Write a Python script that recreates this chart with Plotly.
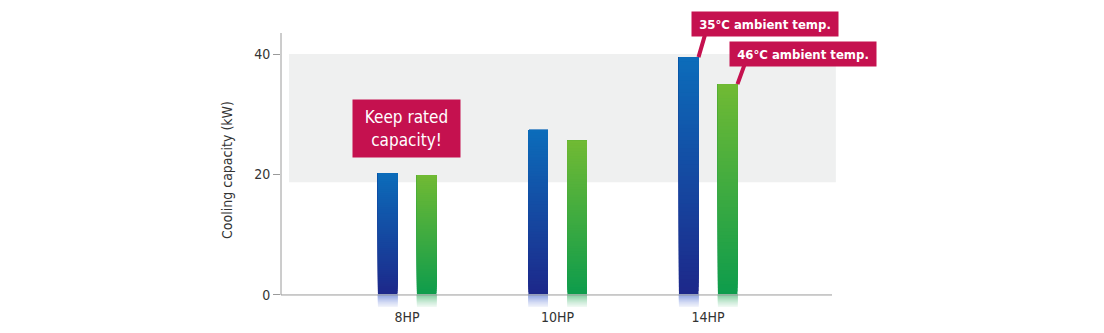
import plotly.graph_objects as go
import numpy as np

# ---- data ----
categories = ["8HP", "10HP", "14HP"]
cap_35c = [20.2, 27.4, 39.5]   # 35°C ambient temp.
cap_46c = [19.9, 25.6, 35.0]   # 46°C ambient temp.
y_tick_vals = [0, 20, 40]
band_range = [18.7, 40]
series_labels = ["35°C ambient temp.", "46°C ambient temp."]
note_text = "Keep rated<br>capacity!"

FONT = "Liberation Sans Narrow, DejaVu Sans Condensed, Roboto, sans-serif"
CRIMSON = "#c5114f"

x_idx = np.arange(len(categories))
N = 60  # gradient steps


def lerp(c0, c1, t):
    return tuple(int(round(a + (b - a) * t)) for a, b in zip(c0, c1))


def gradient_trace(values, offset, width, bottom_rgb, top_rgb):
    # overlapping bars: each step spans from its base up to the bar value
    xs, bases, lens, cols = [], [], [], []
    for xi, v in zip(x_idx, values):
        for k in range(N):
            t = k / (N - 1)
            b0 = k * v / N
            xs.append(xi)
            bases.append(b0)
            lens.append(v - b0)
            r, g, b = lerp(bottom_rgb, top_rgb, t)
            cols.append(f"rgb({r},{g},{b})")
    return go.Bar(x=xs, y=lens, base=bases, offset=offset, width=width,
                  marker=dict(color=cols, line=dict(width=0)),
                  hoverinfo="skip", showlegend=False)


def reflection_trace(values, offset, width, rgb, depth=2.6, n=20):
    xs, bases, lens, cols = [], [], [], []
    for xi, v in zip(x_idx, values):
        for k in range(n):
            d = depth * (1 - k / n)
            a = 0.6 * (k / n) ** 1.4
            c = lerp((255, 255, 255), rgb, a)
            xs.append(xi)
            bases.append(0)
            lens.append(-d)
            cols.append(f"rgb({c[0]},{c[1]},{c[2]})")
    return go.Bar(x=xs, y=lens, base=bases, offset=offset, width=width,
                  marker=dict(color=cols, line=dict(width=0)),
                  hoverinfo="skip", showlegend=False)


BW = 0.13
OFF_A = -0.193
OFF_B = 0.066

fig = go.Figure()
fig.add_trace(gradient_trace(cap_35c, OFF_A, BW, (29, 40, 138), (12, 108, 186)))
fig.add_trace(gradient_trace(cap_46c, OFF_B, BW, (14, 156, 76), (112, 186, 52)))
fig.add_trace(reflection_trace(cap_35c, OFF_A, BW, (60, 95, 205)))
fig.add_trace(reflection_trace(cap_46c, OFF_B, BW, (40, 170, 90)))

# grey band
fig.add_shape(type="rect", xref="paper", yref="y", x0=0.0145, x1=1.007,
              y0=band_range[0], y1=band_range[1], fillcolor="#eff0f0",
              line=dict(width=0), layer="below")
# axis lines
fig.add_shape(type="line", xref="paper", yref="y", x0=0, x1=1, y0=0, y1=0,
              line=dict(color="#9a9a9a", width=1))
fig.add_shape(type="line", xref="paper", yref="y", x0=0, x1=0, y0=0, y1=43.5,
              line=dict(color="#9a9a9a", width=1))

# "Keep rated capacity!" box
fig.add_annotation(x=0, y=27.6, xref="x", yref="y", text=note_text,
                   showarrow=False, bgcolor=CRIMSON, width=103, height=53,
                   borderpad=2, font=dict(family=FONT, size=17, color="white"))

# pointer lines for callouts
tips = [(x_idx[-1] + OFF_A + BW, cap_35c[-1], 7, -24),
        (x_idx[-1] + OFF_B + BW, cap_46c[-1], 8, -22)]
for (tx, ty, ax, ay) in tips:
    fig.add_annotation(x=tx, y=ty, xref="x", yref="y", text="", showarrow=True,
                       arrowhead=0, arrowwidth=4, arrowcolor=CRIMSON,
                       ax=ax, ay=ay, standoff=0)

# callout boxes (paper coords of the plot area)
boxes = [(0.878, 1.033, series_labels[0]), (0.948, 0.925, series_labels[1])]
for bx, by, label in boxes:
    fig.add_annotation(x=bx, y=by, xref="paper", yref="paper", text=f"<b>{label}</b>",
                       xanchor="center", yanchor="middle",
                       showarrow=False, bgcolor=CRIMSON, width=142, height=20,
                       borderpad=2, font=dict(family=FONT, size=13, color="white"))

fig.update_layout(
    width=1104, height=333,
    margin=dict(l=281, r=272, t=33, b=26),
    paper_bgcolor="white", plot_bgcolor="white",
    barmode="overlay",
    font=dict(family=FONT, size=13, color="#333333"),
    xaxis=dict(range=[-0.837, 2.824], tickvals=list(x_idx), ticktext=categories,
               showgrid=False, zeroline=False, showline=False, ticks="",
               automargin=False, tickfont=dict(size=14, color="#333333")),
    yaxis=dict(range=[-2.0, 43.5], tickvals=y_tick_vals, showgrid=False,
               zeroline=False, showline=False, ticks="outside", ticklen=7,
               tickcolor="#9a9a9a", automargin=False,
               tickfont=dict(size=14, color="#333333"),
               title=dict(text="Cooling capacity (kW)", standoff=18,
                          font=dict(size=14, color="#333333"))),
)

fig.write_html("out.html")
